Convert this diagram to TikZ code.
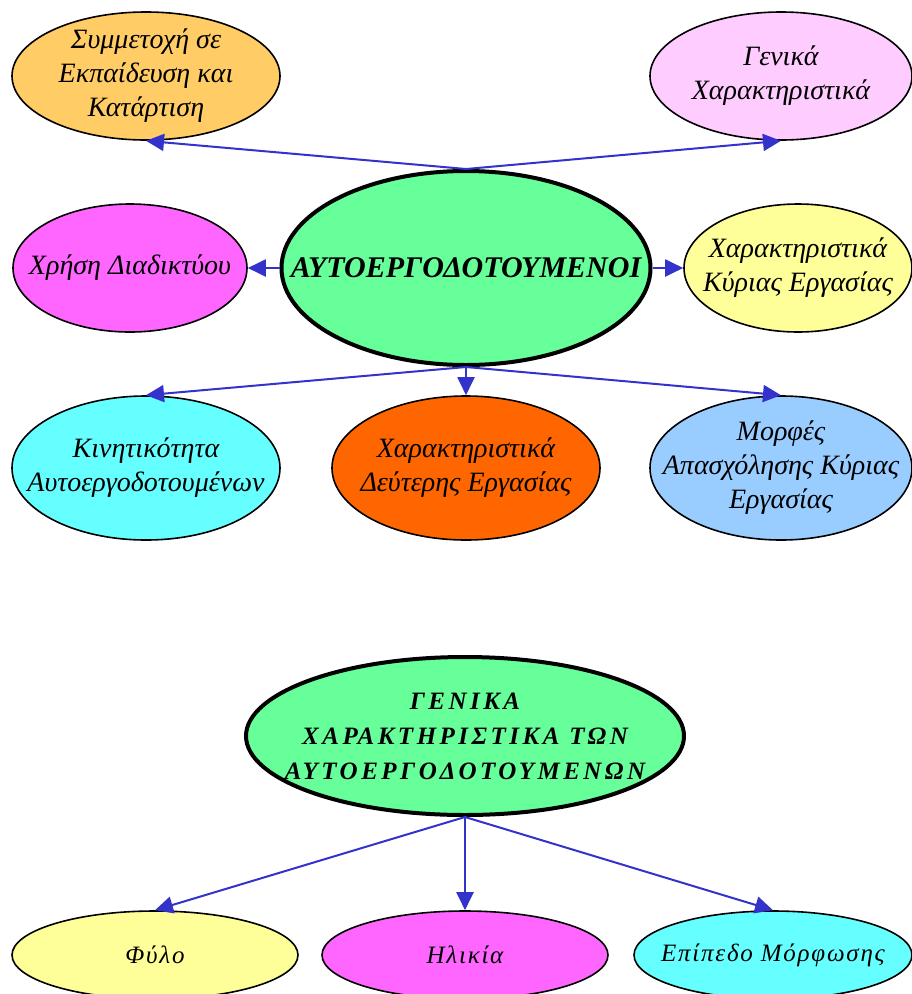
\documentclass[tikz,border=0pt]{standalone}
\usepackage{fontspec}
\setmainfont{Liberation Serif}
\usetikzlibrary{shapes.geometric,arrows.meta}
\definecolor{cOrangeY}{HTML}{FFCC66}
\definecolor{cPink}{HTML}{FFCCFF}
\definecolor{cGreen}{HTML}{66FF99}
\definecolor{cMagenta}{HTML}{FF66FF}
\definecolor{cYellow}{HTML}{FFFF99}
\definecolor{cCyan}{HTML}{66FFFF}
\definecolor{cOrange}{HTML}{FF6600}
\definecolor{cBlue}{HTML}{99CCFF}
\definecolor{cArrow}{HTML}{3333CC}
\tikzset{
  oval/.style={ellipse, draw=black, line width=1.6pt, inner sep=0pt},
  hub/.style={ellipse, draw=black, line width=4pt, inner sep=0pt, fill=cGreen},
  lbl/.style={align=center, font=\itshape\fontsize{28}{34}\selectfont, inner sep=0pt},
  hublbl/.style={align=center, font=\bfseries\itshape\fontsize{30}{36}\selectfont, inner sep=0pt},
  smalllbl/.style={align=center, font=\itshape\fontsize{25}{30}\selectfont\addfontfeatures{LetterSpace=7}, inner sep=0pt},
  conn/.style={draw=cArrow, line width=2pt, -{Triangle[length=18pt,width=17pt]}}
}
\begin{document}
\begin{tikzpicture}[x=1pt,y=-1pt]
\useasboundingbox (0,0) rectangle (912,994);
% top group
\node[hub, minimum width=369pt, minimum height=194pt] (c) at (466,268) {};
\node[hublbl] (ct) at (466,268) {ΑΥΤΟΕΡΓΟΔΟΤΟΥΜΕΝΟΙ};
\node[oval, fill=cOrangeY, minimum width=268pt, minimum height=128pt] (e1) at (146,76) {};
\node[lbl] (e1t) at (146,76) {Συμμετοχή σε\\Εκπαίδευση και\\Κατάρτιση};
\node[oval, fill=cPink, minimum width=262pt, minimum height=128pt] (e2) at (781,76) {};
\node[lbl] (e2t) at (781,76) {Γενικά\\Χαρακτηριστικά};
\node[oval, fill=cMagenta, minimum width=234pt, minimum height=128pt] (e3) at (130,268) {};
\node[lbl] (e3t) at (130,268) {Χρήση Διαδικτύου};
\node[oval, fill=cYellow, minimum width=228pt, minimum height=128pt] (e4) at (798,268) {};
\node[lbl] (e4t) at (798,268) {Χαρακτηριστικά\\Κύριας Εργασίας};
\node[oval, fill=cCyan, minimum width=268pt, minimum height=144pt] (e5) at (146,468) {};
\node[lbl] (e5t) at (146,468) {Κινητικότητα\\Αυτοεργοδοτουμένων};
\node[oval, fill=cOrange, minimum width=268pt, minimum height=144pt] (e6) at (466,468) {};
\node[lbl] (e6t) at (466,468) {Χαρακτηριστικά\\Δεύτερης Εργασίας};
\node[oval, fill=cBlue, minimum width=262pt, minimum height=144pt] (e7) at (781,468) {};
\node[lbl] (e7t) at (781,468) {Μορφές\\Απασχόλησης Κύριας\\Εργασίας};
\draw[conn] (c.north) -- (e1.south);
\draw[conn] (c.north) -- (e2.south);
\draw[conn] (c.west) -- (e3.east);
\draw[conn] (c.east) -- (e4.west);
\draw[conn] (c.south) -- (e5.north);
\draw[conn] (c.south) -- (e6.north);
\draw[conn] (c.south) -- (e7.north);
% bottom group
\node[hub, minimum width=438pt, minimum height=158pt] (g) at (465,736) {};
\node[hublbl, font=\bfseries\itshape\fontsize{25}{35}\selectfont\addfontfeatures{LetterSpace=14}] (gt) at (465,736) {ΓΕΝΙΚΑ\\ΧΑΡΑΚΤΗΡΙΣΤΙΚΑ ΤΩΝ\\ΑΥΤΟΕΡΓΟΔΟΤΟΥΜΕΝΩΝ};
\node[oval, fill=cYellow, minimum width=286pt, minimum height=88pt] (f1) at (155,955) {};
\node[smalllbl] (f1t) at (155,955) {Φύλο};
\node[oval, fill=cMagenta, minimum width=286pt, minimum height=88pt] (f2) at (465,955) {};
\node[smalllbl] (f2t) at (465,955) {Ηλικία};
\node[oval, fill=cCyan, minimum width=278pt, minimum height=88pt] (f3) at (773,955) {};
\node[smalllbl] (f3t) at (773,955) {Επίπεδο Μόρφωσης};
\draw[conn] (g.south) -- (f1.north);
\draw[conn] (g.south) -- (f2.north);
\draw[conn] (g.south) -- (f3.north);
\end{tikzpicture}
\end{document}
